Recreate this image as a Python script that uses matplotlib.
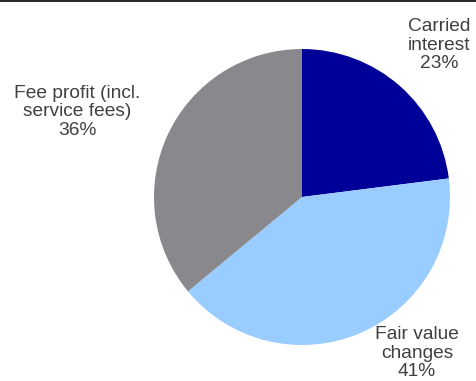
import matplotlib
matplotlib.use("Agg")
import matplotlib.pyplot as plt
from matplotlib.lines import Line2D

plt.rcParams['font.family'] = ['Liberation Sans', 'DejaVu Sans']

categories = ["Carried\ninterest", "Fair value\nchanges", "Fee profit (incl.\nservice fees)"]
shares = [23, 41, 36]
colors = ["#000099", "#99CCFF", "#89898D"]
label_pos = [(439, 336), (417, 28), (77, 269)]

W, H = 477, 381
fig = plt.figure(figsize=(W / 100, H / 100), dpi=100)
ax = fig.add_axes([0, 0, 1, 1])

ax.pie(shares, colors=colors, startangle=90, counterclock=False,
       center=(302, 184), radius=148, frame=True,
       wedgeprops=dict(linewidth=0))
ax.set_xlim(0, W)
ax.set_ylim(0, H)
ax.set_aspect('equal')
ax.axis('off')

for cat, val, (x, y) in zip(categories, shares, label_pos):
    ax.text(x, y, f"{cat}\n{val}%", ha='center', va='center',
            fontsize=13.8, color="#404040", linespacing=1.15)

fig.add_artist(Line2D([0, 1], [0.998, 0.998], transform=fig.transFigure,
                      color='black', linewidth=1.2))

fig.savefig("out.png", dpi=100)
